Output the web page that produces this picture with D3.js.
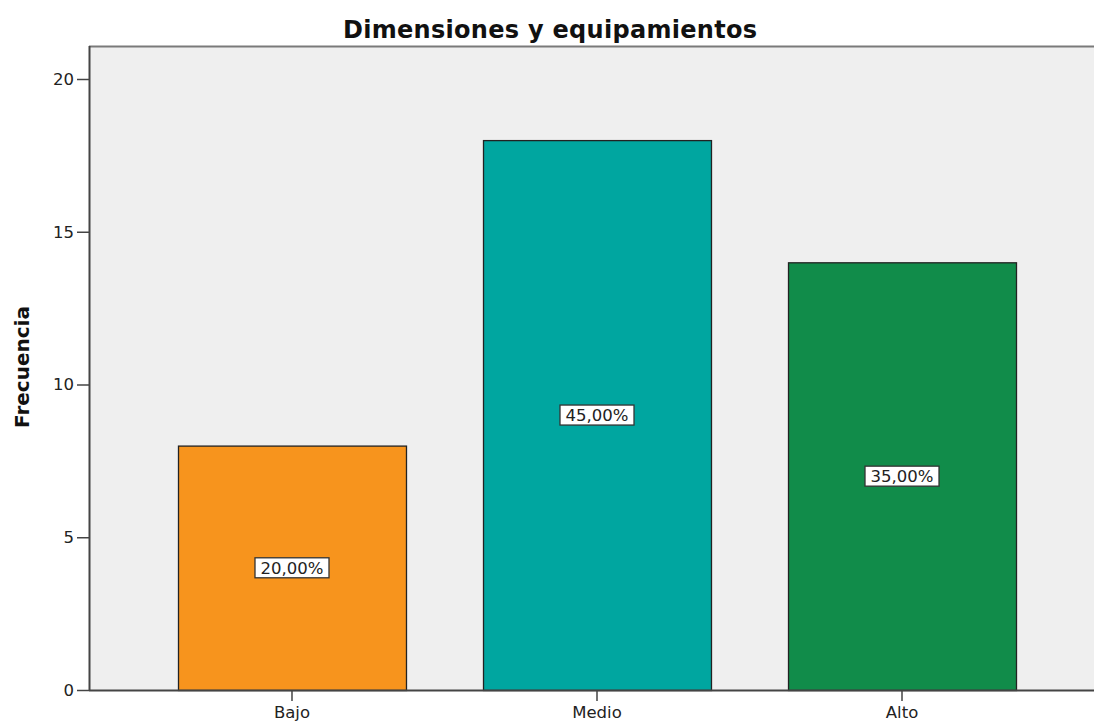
<!DOCTYPE html>
<html><head><meta charset="utf-8">
<script src="https://cdn.jsdelivr.net/npm/d3@7"></script>
<style>body{margin:0;background:#fff}svg{display:block;font-family:"DejaVu Sans",Verdana,sans-serif}</style>
</head><body>
<svg id="c" width="1094" height="722"></svg>
<script>
const categories = ["Bajo", "Medio", "Alto"];
const frequencies = [8, 18, 14];
const percentLabels = ["20,00%", "45,00%", "35,00%"];
const barColors = ["#F7941D", "#00A6A0", "#118C4A"];
const yTicks = [0, 5, 10, 15, 20];

const FONT = "DejaVu Sans, Verdana, sans-serif";
const svg = d3.select("#c");
const plotL = 89, plotR = 1094, plotT = 46, plotB = 690;

const x = d3.scaleBand().domain(categories).range([178, 1016]).paddingInner(0.2525).paddingOuter(0);
const y = d3.scaleLinear().domain([0, 20]).range([plotB, 79]);

svg.append("rect").attr("x", plotL).attr("y", plotT).attr("width", plotR - plotL).attr("height", plotB - plotT).attr("fill", "#EFEFEF");
svg.append("line").attr("x1", plotL).attr("x2", plotR).attr("y1", plotT + 0.5).attr("y2", plotT + 0.5).attr("stroke", "#7a7a7a").attr("stroke-width", 2);

svg.selectAll("rect.bar").data(frequencies).join("rect").attr("class", "bar")
  .attr("x", (d, i) => x(categories[i]) + 0.5)
  .attr("y", d => y(d) + 0.5)
  .attr("width", x.bandwidth())
  .attr("height", d => plotB - y(d))
  .attr("fill", (d, i) => barColors[i])
  .attr("stroke", "#222").attr("stroke-width", 1.3);

// labels
const lg = svg.selectAll("g.lbl").data(frequencies).join("g").attr("class", "lbl")
  .attr("transform", (d, i) => `translate(${x(categories[i]) + x.bandwidth() / 2},${y(d / 2)})`);
lg.append("rect").attr("x", -37).attr("y", -10).attr("width", 74).attr("height", 20)
  .attr("fill", "#fff").attr("stroke", "#333").attr("stroke-width", 1.3);
lg.append("text").attr("text-anchor", "middle").attr("dy", "0.36em").attr("font-size", 16.5)
  .attr("font-family", FONT).attr("fill", "#222")
  .text((d, i) => percentLabels[i]);

// y axis
const yAxis = d3.axisLeft(y).tickValues(yTicks).tickSize(12).tickPadding(3).tickFormat(d3.format("d"));
const ga = svg.append("g").attr("transform", `translate(${plotL},0)`).call(yAxis);
ga.select(".domain").attr("d", `M0.5,${plotT}V${plotB}`).attr("stroke", "#444").attr("stroke-width", 2);
ga.selectAll(".tick line").attr("stroke", "#444").attr("stroke-width", 1.5);
ga.selectAll(".tick text").attr("font-size", 16.5).attr("fill", "#222").attr("font-family", FONT);

// x axis
const xAxis = d3.axisBottom(x).tickSize(11).tickPadding(3);
const gx = svg.append("g").attr("transform", `translate(0,${plotB})`).call(xAxis);
gx.select(".domain").attr("d", `M${plotL},0.5H${plotR}`).attr("stroke", "#444").attr("stroke-width", 2);
gx.selectAll(".tick line").attr("stroke", "#444").attr("stroke-width", 1.5);
gx.selectAll(".tick text").attr("font-size", 16.5).attr("fill", "#222").attr("font-family", FONT)
  .attr("y", 28).attr("dy", 0);

svg.append("text").attr("x", 550).attr("y", 38).attr("text-anchor", "middle")
  .attr("font-family", FONT).attr("font-size", 24).attr("font-weight", "bold").attr("fill", "#111")
  .attr("textLength", 414).attr("lengthAdjust", "spacing")
  .text("Dimensiones y equipamientos");
svg.append("text").attr("transform", "translate(29,367) rotate(-90)").attr("text-anchor", "middle")
  .attr("font-family", FONT).attr("font-size", 20).attr("font-weight", "bold").attr("fill", "#111")
  .text("Frecuencia");
</script>
</body></html>
